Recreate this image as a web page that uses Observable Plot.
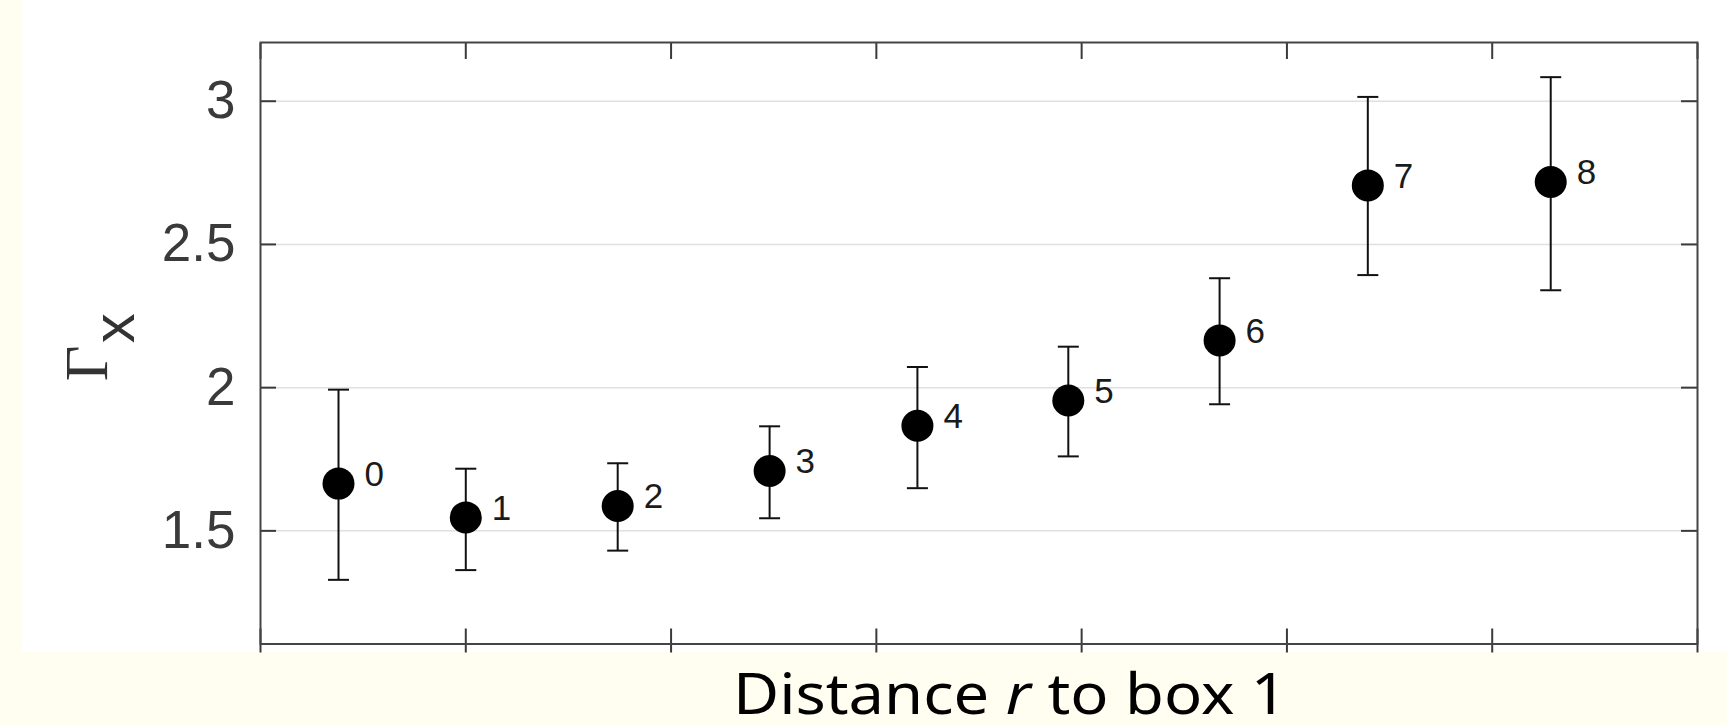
<!DOCTYPE html>
<html>
<head>
<meta charset="utf-8">
<script src="https://cdn.jsdelivr.net/npm/d3@7"></script>
<script src="https://cdn.jsdelivr.net/npm/@observablehq/plot@0.6"></script>
<style>
  html, body { margin: 0; padding: 0; background: #fffef0; width: 1727px; height: 725px; overflow: hidden; }
  #chart { position: absolute; left: 22px; top: 0; }
  #xtitle {
    position: absolute; left: 1010px; top: 664px;
    font-family: "Noto Sans", "Open Sans", sans-serif; font-size: 56px; line-height: 56px;
    color: #000; white-space: nowrap;
    transform: translateX(-50%) scaleX(1.13); transform-origin: center;
  }
</style>
</head>
<body>
<div id="chart"></div>
<div id="xtitle">Distance <i>r</i> to box 1</div>
<script>
// ---- data ----
const boxLabels = ["0", "1", "2", "3", "4", "5", "6", "7", "8"];
const distance  = [0.38, 1.0, 1.74, 2.48, 3.2, 3.935, 4.672, 5.394, 6.285];
const gammaX    = [1.665, 1.547, 1.587, 1.709, 1.867, 1.955, 2.165, 2.706, 2.718];
const errLow    = [1.329, 1.363, 1.431, 1.544, 1.649, 1.760, 1.942, 2.393, 2.340];
const errHigh   = [1.993, 1.717, 1.736, 1.865, 2.072, 2.143, 2.382, 3.015, 3.084];
const xTicks    = [0, 1, 2, 3, 4, 5, 6, 7];
const yTicks    = [1.5, 2, 2.5, 3];
const yLabelMain = "Γ";
const yLabelSub  = "x";

const data = boxLabels.map((label, i) => ({
  label, x: distance[i], y: gammaX[i], lo: errLow[i], hi: errHigh[i]
}));

// horizontal bar symbol for error-bar caps
const capSymbol = {
  draw(context, size) {
    const r = Math.sqrt(size / Math.PI);
    context.moveTo(-r, 0);
    context.lineTo(r, 0);
  }
};

const axisColor = "#3a3a3a";
const blank = () => "";

const chart = Plot.plot({
  width: 1705,
  height: 652,
  marginLeft: 238,
  marginRight: 30,
  marginTop: 42,
  marginBottom: 8.5,
  style: { background: "#ffffff", maxWidth: "none", overflow: "visible" },
  x: { domain: [0, 7] },
  y: { domain: [1.105, 3.205] },
  marks: [
    Plot.gridY({ ticks: yTicks, stroke: "#e0e0e0", strokeOpacity: 1, strokeWidth: 1.5 }),
    Plot.axisY({ anchor: "left", ticks: yTicks, tickSize: -16, tickPadding: 41,
      tickFormat: d => `${d}`, label: null, color: axisColor, strokeWidth: 2,
      fontSize: 53, fontFamily: "Liberation Sans, Arial, sans-serif" }),
    Plot.axisY({ anchor: "right", ticks: yTicks, tickSize: -17, tickFormat: blank,
      label: null, color: axisColor, strokeWidth: 2 }),
    Plot.axisX({ anchor: "top", ticks: xTicks, tickSize: -16, tickFormat: blank,
      label: null, color: axisColor, strokeWidth: 2 }),
    Plot.axisX({ anchor: "bottom", ticks: xTicks, tickSize: -15, tickFormat: blank,
      label: null, color: axisColor, strokeWidth: 2 }),
    Plot.axisX({ anchor: "bottom", ticks: xTicks, tickSize: 9, tickFormat: blank,
      label: null, color: axisColor, strokeWidth: 2 }),
    Plot.frame({ stroke: "#444", strokeWidth: 2 }),
    Plot.ruleX(data, { x: "x", y1: "lo", y2: "hi", stroke: "#111", strokeWidth: 2 }),
    Plot.dot(data, { x: "x", y: "lo", r: 10.5, symbol: capSymbol, stroke: "#111", strokeWidth: 2, fill: "none" }),
    Plot.dot(data, { x: "x", y: "hi", r: 10.5, symbol: capSymbol, stroke: "#111", strokeWidth: 2, fill: "none" }),
    Plot.dot(data, { x: "x", y: "y", r: 16, fill: "#000", stroke: "none" }),
    Plot.text(data, { x: "x", y: "y", text: "label", dx: 26, dy: -9, textAnchor: "start",
      fontSize: 35, fill: "#1a1a1a", fontFamily: "Liberation Sans, Arial, sans-serif" }),
    Plot.text([yLabelMain], { frameAnchor: "left", text: d => d, rotate: -90,
      textAnchor: "middle", lineAnchor: "bottom", dx: -154, dy: 20,
      fontSize: 62, fill: "#333", fontFamily: "Liberation Serif, serif" }),
    Plot.text([yLabelSub], { frameAnchor: "left", text: d => d, rotate: -90,
      textAnchor: "middle", lineAnchor: "bottom", dx: -127, dy: -15,
      fontSize: 60, fill: "#333", fontFamily: "Liberation Sans, Arial, sans-serif" })
  ]
});
document.getElementById("chart").appendChild(chart);
</script>
</body>
</html>
